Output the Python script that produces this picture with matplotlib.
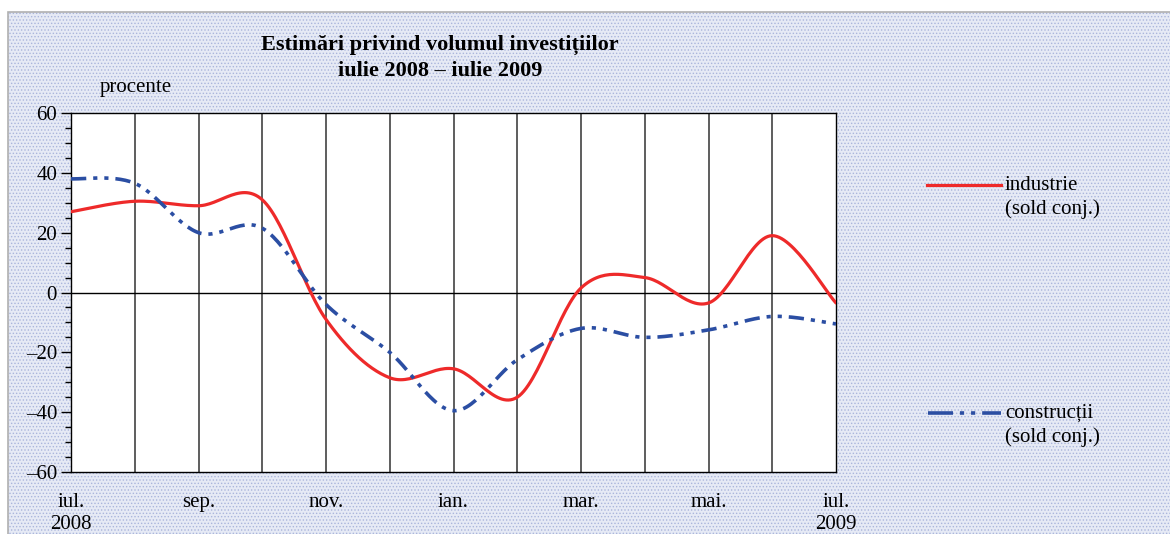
import numpy as np
import matplotlib
matplotlib.use("Agg")
import matplotlib.pyplot as plt
from matplotlib.patches import Rectangle
from matplotlib.lines import Line2D

months = ["iul.\n2008", "aug.", "sep.", "oct.", "nov.", "dec.", "ian.", "feb.",
          "mar.", "apr.", "mai.", "iun.", "iul.\n2009"]
shown_labels = ["iul.\n2008", "", "sep.", "", "nov.", "", "ian.", "", "mar.", "", "mai.", "", "iul.\n2009"]
industrie = [27, 30.5, 29, 31, -9, -28.5, -25.5, -35, 1.5, 5, -3.5, 19, -3.5]
constructii = [38, 36.5, 20, 21.5, -4, -20, -39.5, -22.5, -12, -15, -12.5, -8, -10.5]

plt.rcParams['font.family'] = ['Liberation Serif', 'DejaVu Serif']
plt.rcParams['lines.scale_dashes'] = False
plt.rcParams['hatch.linewidth'] = 0.6

FS = 15


def smooth(y, n=30):
    y = np.asarray(y, float)
    x = np.arange(len(y), dtype=float)
    xs, ys = [], []
    for i in range(len(y) - 1):
        p0 = np.array([x[max(i - 1, 0)], y[max(i - 1, 0)]])
        p1 = np.array([x[i], y[i]])
        p2 = np.array([x[i + 1], y[i + 1]])
        p3 = np.array([x[min(i + 2, len(y) - 1)], y[min(i + 2, len(y) - 1)]])
        c1 = p1 + (p2 - p0) / 6
        c2 = p2 - (p3 - p1) / 6
        t = np.linspace(0, 1, n)[:, None]
        b = (1 - t) ** 3 * p1 + 3 * (1 - t) ** 2 * t * c1 + 3 * (1 - t) * t ** 2 * c2 + t ** 3 * p2
        xs.append(b[:, 0]); ys.append(b[:, 1])
    return np.concatenate(xs), np.concatenate(ys)


fig = plt.figure(figsize=(11.7, 5.34), dpi=100)
fig.patch.set_facecolor('white')
bg = Rectangle((8 / 1170, 0), 1.0, 522 / 534, transform=fig.transFigure,
               facecolor='#e6eaf5', edgecolor='#aab5dc', hatch='.....', lw=0, zorder=-2)
fig.patches.append(bg)
border = Rectangle((8 / 1170, -0.01), 1.0, 522 / 534 + 0.01, transform=fig.transFigure,
                   facecolor='none', edgecolor='#b0b0b0', lw=1.2, zorder=-1)
fig.patches.append(border)

ax = fig.add_axes([71 / 1170, 62 / 534, 765 / 1170, 359 / 534])
ax.set_zorder(2)
ax.set_facecolor('white')
ax.set_xlim(0, len(months) - 1)
ax.set_ylim(-60, 60)

for i in range(1, len(months) - 1):
    ax.axvline(i, color='#505050', lw=1.3, zorder=1)
ax.axhline(0, color='black', lw=1.0, zorder=1)

xi, yi = smooth(industrie)
ax.plot(xi, yi, color='#ee2a2a', lw=2.3, zorder=3, solid_capstyle='round')
xc, yc = smooth(constructii)
ax.plot(xc, yc, color='#2b4ea3', lw=2.6, zorder=3, linestyle=(0, (11, 5, 3, 5, 3, 5)))

ax.set_yticks(np.arange(-60, 61, 20))
ax.set_yticklabels([("\u2013" + str(abs(v))) if v < 0 else str(v) for v in range(-60, 61, 20)])
ax.set_yticks(np.arange(-60, 61, 5), minor=True)
ax.tick_params(axis='y', which='major', direction='out', length=7, width=1, labelsize=FS, pad=3)
ax.tick_params(axis='y', which='minor', direction='out', length=4, width=1)
ax.set_xticks(np.arange(len(months)))
ax.set_xticklabels(shown_labels, fontsize=FS, linespacing=1.25, va='top')
ax.tick_params(axis='x', length=0, pad=15)
for s in ax.spines.values():
    s.set_color('black'); s.set_linewidth(1.0)

fig.text(440 / 1170, 1 - 45 / 534, "Estimări privind volumul investițiilor",
         ha='center', va='center', fontsize=16, fontweight='bold')
fig.text(440 / 1170, 1 - 71 / 534, "iulie 2008 \u2013 iulie 2009",
         ha='center', va='center', fontsize=16, fontweight='bold')
fig.text(100 / 1170, 1 - 87 / 534, "procente", ha='left', va='center', fontsize=FS)

# legend
fig.add_artist(Line2D([927 / 1170, 1001 / 1170], [1 - 185 / 534] * 2, color='#ee2a2a', lw=2.3,
                      transform=fig.transFigure))
fig.text(1005 / 1170, 1 - 185 / 534, "industrie", ha='left', va='center', fontsize=FS)
fig.text(1005 / 1170, 1 - 209 / 534, "(sold conj.)", ha='left', va='center', fontsize=FS)
fig.add_artist(Line2D([928 / 1170, 1001 / 1170], [1 - 413 / 534] * 2, color='#2b4ea3', lw=2.6,
                      linestyle=(0, (18, 5, 3, 5, 3, 5)), transform=fig.transFigure))
fig.text(1005 / 1170, 1 - 413 / 534, "construcții", ha='left', va='center', fontsize=FS)
fig.text(1005 / 1170, 1 - 437 / 534, "(sold conj.)", ha='left', va='center', fontsize=FS)

fig.savefig("out.png", dpi=100)
